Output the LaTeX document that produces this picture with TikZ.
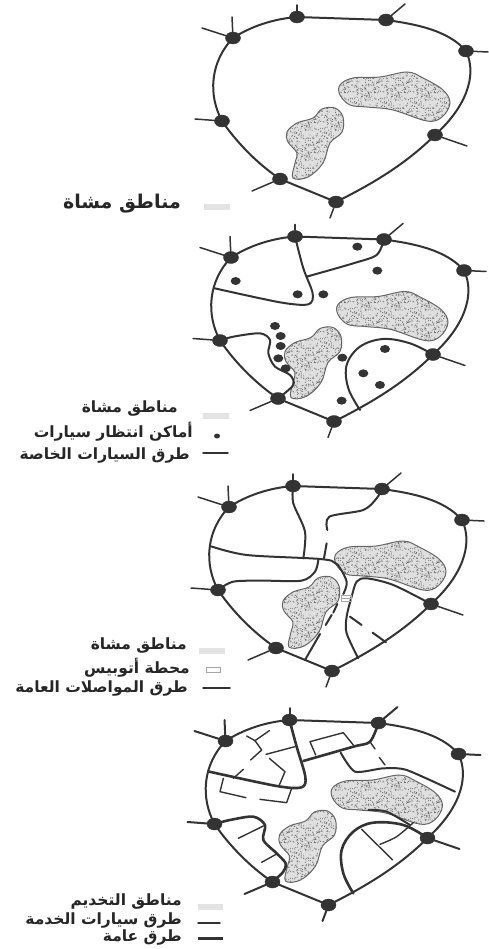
\documentclass[tikz,border=0pt]{standalone}
\usepackage{fontspec}
\usetikzlibrary{shapes.geometric,patterns}
\TeXXeTstate=1
\newfontfamily\arabicfont[Script=Arabic]{DejaVu Sans}
\definecolor{ink}{HTML}{333333}
\definecolor{stip}{HTML}{666666}
\pgfmathsetseed{4242}
\pgfdeclarepatternformonly{stipdots}{\pgfqpoint{0pt}{0pt}}{\pgfqpoint{30pt}{30pt}}{\pgfqpoint{30pt}{30pt}}{%
  \foreach \i in {1,...,170}{%
    \pgfmathsetmacro\dotx{30*rnd}%
    \pgfmathsetmacro\doty{30*rnd}%
    \pgfpathcircle{\pgfpoint{\dotx pt}{\doty pt}}{.55pt}%
    \pgfusepath{fill}%
  }%
}
\tikzset{
  junction/.style={ellipse,fill=ink,draw=ink,inner sep=0pt,minimum width=15pt,minimum height=12pt},
  ring/.style={draw=ink,line width=2pt,line cap=round,line join=round},
  stub/.style={draw=ink,line width=1.4pt,line cap=round},
  road/.style={draw=ink,line width=2pt,line cap=round,line join=round},
  thinroad/.style={draw=ink,line width=1.4pt,line cap=round,line join=round},
  thickroad/.style={draw=ink,line width=2.6pt,line cap=round,line join=round},
  parkdot/.style={ellipse,fill=ink,inner sep=0pt,minimum width=10pt,minimum height=8pt},
  swatch/.style={fill=gray!22,draw=none,minimum width=26pt,minimum height=6pt,inner sep=0pt},
  lab/.style={anchor=east,inner sep=0pt,font=\arabicfont\bfseries\fontsize{15.5}{18}\selectfont,text=black!85},
}
\newcommand\blobone{(340,85)(353,78)(380,77)(407,72)(423,78)(443,90)(450,103)(442,117)(427,121)(393,110)(367,107)(350,105)(340,95)}
\newcommand\blobtwo{(287,132)(297,123)(313,118)(322,109)(335,108)(343,117)(342,132)(330,143)(323,163)(308,177)(293,178)(295,163)(297,153)(288,142)}
\newcommand\stipple[1]{%
  \fill[gray!25] plot[smooth cycle,tension=.6] coordinates {#1};
  \fill[pattern=stipdots,pattern color=stip] plot[smooth cycle,tension=.6] coordinates {#1};
  \draw[stip,line width=1pt] plot[smooth cycle,tension=.6] coordinates {#1};
}
\newcommand\basinpanel[4]{%
  \begin{scope}[shift={(#2,#3)}]
    \stipple{\blobone}
    \stipple{\blobtwo}
    \node[junction] (#1A) at (233,38) {};
    \node[junction] (#1B) at (297,17) {};
    \node[junction] (#1C) at (386,20) {};
    \node[junction] (#1D) at (466,51) {};
    \node[junction] (#1E) at (435,135) {};
    \node[junction] (#1F) at (336,202) {};
    \node[junction] (#1G) at (280,179) {};
    \node[junction] (#1H) at (222,121) {};
    \coordinate (#1a1) at (232,17);
    \coordinate (#1a2) at (202,28);
    \coordinate (#1b1) at (297,5);
    \coordinate (#1c1) at (405,4);
    \coordinate (#1d1) at (488,52);
    \coordinate (#1e1) at (467,146);
    \coordinate (#1f1) at (330,218);
    \coordinate (#1g1) at (252,191);
    \coordinate (#1h1) at (195,119);
    \draw[ring] (#1A.center) .. controls (250,27) and (272,19) .. (#1B.center);
    \draw[ring] (#1B.center) -- (#1C.center);
    \draw[ring] (#1C.center) .. controls (415,24) and (448,30) .. (#1D.center);
    \draw[ring] (#1D.center) .. controls (478,76) and (465,108) .. (#1E.center);
    \draw[ring] (#1E.center) .. controls (405,165) and (370,185) .. (#1F.center);
    \draw[ring] (#1F.center) -- (#1G.center);
    \draw[ring] (#1G.center) .. controls (255,162) and (235,140) .. (#1H.center);
    \draw[ring] (#1H.center) .. controls (208,95) and (210,62) .. (#1A.center);
    \draw[stub,line width=#4] (#1A) -- (#1a1);
    \draw[stub,line width=#4] (#1A) -- (#1a2);
    \draw[stub,line width=#4] (#1B) -- (#1b1);
    \draw[stub,line width=#4] (#1C) -- (#1c1);
    \draw[stub,line width=#4] (#1D) -- (#1d1);
    \draw[stub,line width=#4] (#1E) -- (#1e1);
    \draw[stub,line width=#4] (#1F) -- (#1f1);
    \draw[stub,line width=#4] (#1G) -- (#1g1);
    \draw[stub,line width=#4] (#1H) -- (#1h1);
  \end{scope}%
}
\begin{document}
\begin{tikzpicture}[x=1pt,y=-1pt]
\useasboundingbox (0,0) rectangle (488,949);

% ---------- panel 1
\basinpanel{p}{0}{0}{1.5pt}
\node[lab,font=\arabicfont\bfseries\fontsize{19}{22}\selectfont] (t1) at (181,204) {\beginR مناطق مشاة\endR};
\node[swatch] (s1) at (217,207) {};

% ---------- panel 2
\basinpanel{q}{-2}{219.5}{1.5pt}
\begin{scope}[shift={(120,225)},x=.3333pt,y=-.3333pt]
  \draw[road] plot[smooth,tension=.5] coordinates {(qB.center)(550,130)(578,205)(565,238)(480,232)(284,190)};
  \draw[road] plot[smooth,tension=.5] coordinates {(560,155)(700,115)(770,90)(qC.center)};
  \draw[road] plot[smooth,tension=.5] coordinates {(qH.center)(340,335)(420,325)(450,345)(445,385)(465,425)(510,450)(520,480)(qG.center)};
  \draw[road] plot[smooth,tension=.6] coordinates {(qE.center)(870,355)(790,342)(720,365)(680,420)(685,490)(720,555)};
  \foreach \n/\p in {d1/{712,65},d2/{772,137},d3/{347,168},d4/{533,208},d5/{610,208},d6/{465,303},d7/{482,333},d8/{482,363},d9/{475,400},d10/{497,430},d11/{667,398},d12/{795,372},d13/{730,445},d14/{780,480},d15/{665,527}}
    \node[parkdot] (\n) at (\p) {};
\end{scope}
\node[lab] (t2a) at (178,409) {\beginR مناطق مشاة\endR};
\node[lab] (t2b) at (193,432) {\beginR أماكن انتظار سيارات\endR};
\node[lab] (t2c) at (190,456) {\beginR طرق السيارات الخاصة\endR};
\node[swatch] (s2a) at (216,416) {};
\node[ellipse,fill=ink,inner sep=0pt,minimum width=6pt,minimum height=5pt] (s2b) at (217,436) {};
\coordinate (l2a) at (203,453);
\coordinate (l2b) at (228,453);
\draw[thinroad] (l2a) -- (l2b);

% ---------- panel 3
\basinpanel{r}{-4}{469}{1.5pt}
\begin{scope}[shift={(120,460)},x=.3333pt,y=-.3333pt]
  \draw[road] plot[smooth,tension=.5] coordinates {(rB.center)(520,130)(555,215)(550,295)};
  \draw[road] plot[smooth,tension=.5] coordinates {(270,258)(380,285)(600,297)(650,312)(680,365)(670,402)};
  \draw[road] plot[smooth,tension=.5] coordinates {(595,300)(585,335)(545,362)(430,362)(340,365)(rH.center)};
  \draw[road] plot[smooth,tension=.5] coordinates {(rC.center)(770,115)(730,150)(628,170)(622,210)};
  \draw[road] (620,250) -- (612,295);
  \draw[road] plot[smooth,tension=.5] coordinates {(rE.center)(820,375)(740,355)(710,365)(695,410)(680,470)(680,520)(715,595)};
  \draw[road] (690,470) -- (725,495);
  \draw[road] (758,518) -- (798,547);
  \draw[road] (652,432) -- (640,458);
  \draw[road] (635,465) -- (617,495);
  \draw[road] (600,522) -- (555,600);
  \draw[draw=gray!70,line width=.7pt] (665,405) rectangle (695,425);
  \draw[draw=gray!70,line width=.7pt] (665,415) -- (695,415);
\end{scope}
\node[lab] (t3a) at (187,646) {\beginR مناطق مشاة\endR};
\node[lab] (t3b) at (190,668) {\beginR محطة أتوبيس\endR};
\node[lab] (t3c) at (188,688) {\beginR طرق المواصلات العامة\endR};
\node[swatch] (s3a) at (212,651) {};
\node[draw=gray!70,line width=.6pt,minimum width=14pt,minimum height=5pt,inner sep=0pt] (s3b) at (213,670) {};
\coordinate (l3a) at (203,688);
\coordinate (l3b) at (230,688);
\draw[thinroad] (l3a) -- (l3b);

% ---------- panel 4
\basinpanel{s}{-7.5}{703}{2pt}
\begin{scope}[shift={(120,700)},x=.3333pt,y=-.3333pt]
  \draw[thickroad] plot[smooth,tension=.5] coordinates {(sB.center)(530,140)(556,230)(545,262)(470,258)(268,215)};
  \draw[thickroad] plot[smooth,tension=.5] coordinates {(550,183)(700,140)(750,125)(sC.center)};
  \draw[thinroad] (587,165) -- (570,125) -- (670,98) -- (700,135);
  \draw[road] plot[smooth,tension=.4] coordinates {(662,158)(705,215)(790,205)(860,210)(1005,275)};
  \draw[thinroad] (750,125) -- (765,147);
  \draw[thinroad] (778,172) -- (795,195);
  \draw[thinroad] (448,92) -- (405,122) -- (380,108);
  \draw[thinroad] (405,122) -- (425,150) -- (392,180);
  \draw[thinroad] (438,163) -- (525,140);
  \draw[thinroad] (448,175) -- (495,215) -- (478,255);
  \draw[thinroad] (370,208) -- (340,235);
  \draw[thinroad] (310,235) -- (300,275) -- (378,293);
  \draw[thinroad] (420,298) -- (500,308) -- (515,265);
  \draw[thickroad] plot[smooth,tension=.5] coordinates {(sH.center)(330,360)(400,350)(435,375)(430,420)(470,460)(497,490)(490,515)(sG.center)};
  \draw[thinroad] (355,415) -- (430,378);
  \draw[thinroad] (425,487) -- (470,462);
  \draw[thickroad] plot[smooth,tension=.6] coordinates {(sE.center)(850,375)(760,368)(700,395)(665,450)(670,520)(700,580)};
  \draw[road] plot[smooth,tension=.5] coordinates {(745,330)(800,335)(870,375)};
  \draw[thinroad] plot[smooth,tension=.5] coordinates {(880,368)(830,410)(780,433)};
  \draw[thinroad] (725,388) -- (818,480);
\end{scope}
\node[lab] (t4a) at (182,902) {\beginR مناطق التخديم\endR};
\node[lab] (t4b) at (182,920) {\beginR طرق سيارات الخدمة\endR};
\node[lab] (t4c) at (182,937) {\beginR طرق عامة\endR};
\node[swatch,minimum width=25pt] (s4a) at (210,907) {};
\coordinate (l4a) at (198,923);
\coordinate (l4b) at (220,923);
\draw[thinroad] (l4a) -- (l4b);
\coordinate (l4c) at (198,938);
\coordinate (l4d) at (223,938);
\draw[draw=ink,line width=3pt] (l4c) -- (l4d);
\end{tikzpicture}
\end{document}
